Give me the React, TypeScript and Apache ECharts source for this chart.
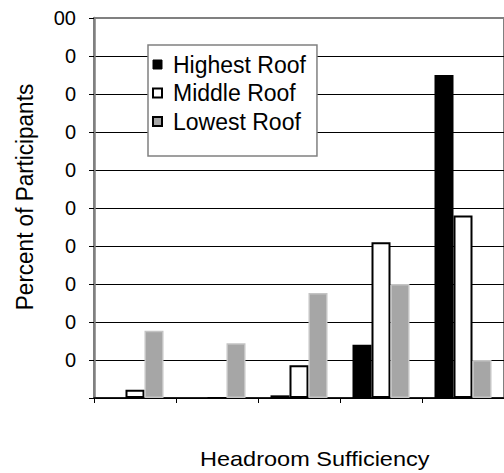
import React, { useEffect, useRef } from "react";
import * as echarts from "echarts";

const categories = ["1", "2", "3", "4", "5"];
const seriesNames = ["Highest Roof", "Middle Roof", "Lowest Roof"];
const highestRoof = [0, 0, 0.7, 14, 85];
const middleRoof = [2.2, 0, 8.6, 41, 48];
const lowestRoof = [17.7, 14.4, 27.6, 30, 10];
const yTickValues = [0, 10, 20, 30, 40, 50, 60, 70, 80, 90, 100];
const yTickLabels = ["", "0", "0", "0", "0", "0", "0", "0", "0", "0", "00"];
const xTitle = "Headroom Sufficiency";
const yTitle = "Percent of Participants";

const FONT = "'Liberation Sans', Arial, sans-serif";

export default function App() {
  const ref = useRef<HTMLDivElement>(null);
  useEffect(() => {
    if (!ref.current) return;
    const chart = echarts.init(ref.current, null, { renderer: "svg" });
    const splitColors = yTickValues.map((v, i) =>
      i === yTickValues.length - 1 ? "#808080" : "#000000"
    );
    chart.setOption({
      animation: false,
      backgroundColor: "#ffffff",
      textStyle: { fontFamily: FONT },
      grid: {
        left: 94,
        top: 18,
        width: 415,
        bottom: 75,
        show: true,
        borderColor: "#808080",
        borderWidth: 2,
        backgroundColor: "#ffffff",
      },
      legend: {
        orient: "vertical",
        left: 148,
        top: 45,
        padding: [8, 11, 23, 4],
        itemGap: 5.5,
        itemWidth: 9,
        itemHeight: 9,
        icon: "rect",
        backgroundColor: "#ffffff",
        borderColor: "#808080",
        borderWidth: 1.5,
        borderRadius: 0,
        textStyle: { fontSize: 23, color: "#000", fontFamily: FONT, padding: [0, 0, 0, 6] },
        data: [
          { name: seriesNames[0], itemStyle: { color: "#000", borderColor: "#000", borderWidth: 1 } },
          { name: seriesNames[1], itemStyle: { color: "#fff", borderColor: "#000", borderWidth: 2 } },
          { name: seriesNames[2], itemStyle: { color: "#a6a6a6", borderColor: "#000", borderWidth: 2 } },
        ],
      },
      xAxis: {
        type: "category",
        data: categories,
        boundaryGap: true,
        axisLine: { show: true, lineStyle: { color: "#000", width: 1.5 } },
        axisTick: { show: true, inside: false, length: 5, alignWithLabel: false, lineStyle: { color: "#000" } },
        axisLabel: { show: false },
        splitLine: { show: false },
      },
      yAxis: {
        type: "value",
        min: 0,
        max: 100,
        interval: 10,
        axisLine: { show: true, lineStyle: { color: "#808080", width: 2.5 } },
        axisTick: { show: true, inside: false, length: 5, lineStyle: { color: "#000" } },
        axisLabel: {
          show: true,
          margin: 18,
          fontSize: 20,
          color: "#000",
          fontFamily: FONT,
          formatter: (v: number) => {
            const i = yTickValues.indexOf(Math.round(v));
            return i >= 0 ? yTickLabels[i] : "";
          },
        },
        splitLine: { show: true, lineStyle: { color: splitColors, width: 1 } },
      },
      graphic: [
        {
          type: "text",
          x: 25,
          y: 197,
          rotation: Math.PI / 2,
          scaleY: 1.1,
          style: {
            text: yTitle,
            fontSize: 22.5,
            fill: "#000",
            fontFamily: FONT,
            textAlign: "center",
            textVerticalAlign: "middle",
          },
        },
        {
          type: "text",
          x: 200,
          y: 448,
          scaleX: 1.12,
          style: {
            text: xTitle,
            fontSize: 21,
            fill: "#000",
            fontFamily: FONT,
            textAlign: "left",
            textVerticalAlign: "top",
          },
        },
      ],
      series: [
        {
          name: seriesNames[0],
          type: "bar",
          data: highestRoof,
          barWidth: 19,
          barGap: "0%",
          itemStyle: { color: "#000000", borderColor: "#000", borderWidth: 0 },
        },
        {
          name: seriesNames[1],
          type: "bar",
          data: middleRoof,
          barWidth: 19,
          barGap: "0%",
          itemStyle: { color: "#ffffff", borderColor: "#000", borderWidth: 2 },
        },
        {
          name: seriesNames[2],
          type: "bar",
          data: lowestRoof,
          barWidth: 19,
          barGap: "0%",
          itemStyle: { color: "#a6a6a6", borderColor: "#c4c4c4", borderWidth: 1.5 },
        },
      ],
    });
    return () => chart.dispose();
  }, []);
  return (
    <div
      ref={ref}
      style={{ position: "fixed", left: 0, top: 0, width: 504, height: 473 }}
    />
  );
}
